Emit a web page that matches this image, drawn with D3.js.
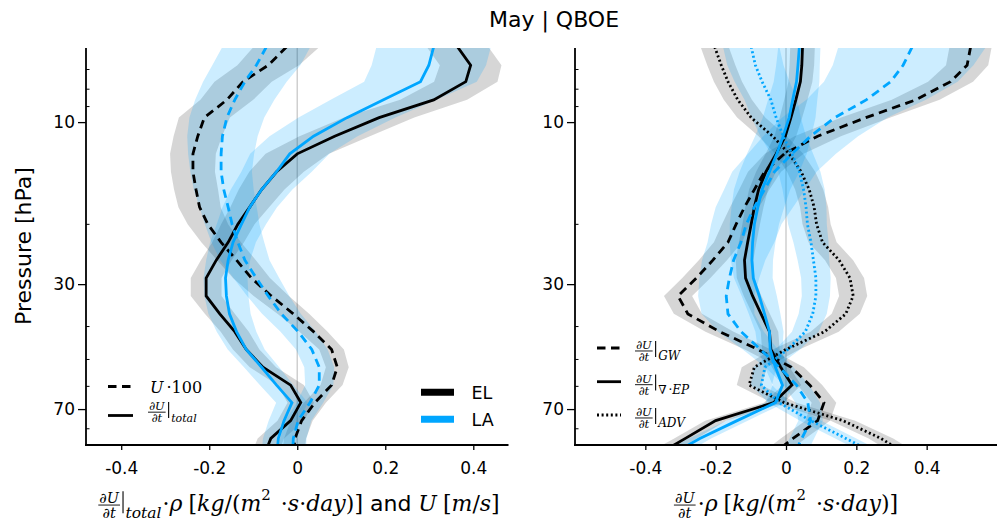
<!DOCTYPE html>
<html>
<head>
<meta charset="utf-8">
<script src="https://cdn.jsdelivr.net/npm/d3@7"></script>
<style>
  body { margin: 0; background: #fff; }
  svg { display: block; }
</style>
</head>
<body>
<svg id="chart" width="998" height="522"></svg>
<script>
// ---- data ----------------------------------------------------------
// pressure levels [hPa]
const pressure = [6.0, 6.8, 7.6, 8.6, 9.7, 11, 12.4, 14, 15.8, 17.8, 20, 22.6,
                  25.5, 28.8, 32.5, 36.7, 41.4, 46.7, 52.7, 59.5, 67, 75.7, 85.4, 92];

// left panel: U*100 and total tendency (EL / LA composites) with spread
const elU    = [-0.024,-0.066,-0.123,-0.16,-0.211,-0.226,-0.237,-0.237,-0.230,-0.222,-0.203,-0.173,-0.138,-0.104,-0.059,-0.009,0.037,0.078,0.091,0.078,0.040,0.010,-0.005,-0.008];
const elUsd  = [0.075,0.07,0.065,0.06,0.058,0.055,0.052,0.05,0.05,0.048,0.046,0.045,0.044,0.042,0.04,0.036,0.032,0.028,0.026,0.025,0.025,0.025,0.025,0.025];
const laU    = [-0.070,-0.093,-0.119,-0.142,-0.160,-0.170,-0.173,-0.173,-0.167,-0.157,-0.148,-0.135,-0.119,-0.093,-0.066,-0.036,0.002,0.033,0.050,0.050,0.029,0.002,-0.009,-0.010];
const laUsd  = [0.1,0.1,0.095,0.09,0.085,0.08,0.075,0.07,0.068,0.065,0.062,0.06,0.056,0.052,0.048,0.044,0.04,0.036,0.034,0.032,0.03,0.03,0.03,0.03];
const elTot  = [0.364,0.394,0.383,0.31,0.186,0.085,0.0,-0.047,-0.081,-0.108,-0.135,-0.157,-0.184,-0.207,-0.207,-0.176,-0.142,-0.116,-0.078,-0.015,0.008,-0.015,-0.06,-0.07];
const elTotSd= [0.07,0.07,0.072,0.076,0.08,0.08,0.072,0.062,0.052,0.044,0.038,0.036,0.035,0.035,0.035,0.034,0.032,0.03,0.03,0.03,0.03,0.03,0.03,0.03];
const laTot  = [0.31,0.299,0.28,0.196,0.113,0.037,-0.017,-0.047,-0.081,-0.108,-0.127,-0.146,-0.157,-0.163,-0.161,-0.154,-0.138,-0.116,-0.081,-0.047,-0.012,-0.03,-0.043,-0.045];
const laTotSd= [0.13,0.13,0.128,0.12,0.11,0.1,0.09,0.08,0.07,0.062,0.056,0.052,0.05,0.05,0.05,0.048,0.045,0.042,0.04,0.038,0.036,0.035,0.035,0.035];

// right panel: gravity-wave, EP-flux divergence and advection tendencies
const elGW   = [0.525,0.515,0.468,0.369,0.227,0.090,-0.005,-0.061,-0.090,-0.118,-0.142,-0.165,-0.208,-0.255,-0.307,-0.279,-0.189,-0.08,0.015,0.068,0.108,0.09,0.02,-0.02];
const elGWsd = [0.06,0.06,0.064,0.068,0.07,0.066,0.055,0.047,0.043,0.041,0.04,0.04,0.04,0.04,0.04,0.04,0.04,0.037,0.036,0.035,0.035,0.035,0.035,0.035];
const laGW   = [0.359,0.333,0.298,0.228,0.139,0.07,0.017,-0.033,-0.061,-0.090,-0.113,-0.128,-0.149,-0.161,-0.170,-0.165,-0.128,-0.073,-0.019,0.03,0.062,0.07,0.045,0.03];
const laGWsd = [0.21,0.2,0.19,0.17,0.15,0.135,0.125,0.12,0.115,0.11,0.1,0.095,0.09,0.085,0.08,0.075,0.065,0.05,0.04,0.036,0.035,0.035,0.035,0.035];
const elEP   = [0.047,0.045,0.041,0.028,0.014,-0.002,-0.028,-0.057,-0.078,-0.090,-0.099,-0.109,-0.118,-0.115,-0.095,-0.071,-0.047,-0.043,-0.015,0.017,-0.035,-0.2,-0.286,-0.34];
const elEPsd = [0.035,0.035,0.034,0.033,0.032,0.031,0.03,0.028,0.027,0.026,0.025,0.025,0.025,0.025,0.025,0.025,0.025,0.025,0.025,0.026,0.028,0.03,0.032,0.034];
const laEP   = [0.038,0.034,0.030,0.019,0.009,-0.008,-0.026,-0.047,-0.068,-0.080,-0.090,-0.095,-0.097,-0.093,-0.076,-0.061,-0.047,-0.045,-0.03,-0.01,-0.03,-0.139,-0.245,-0.3];
const laEPsd = [0.06,0.062,0.065,0.07,0.075,0.08,0.085,0.085,0.08,0.075,0.07,0.065,0.06,0.055,0.05,0.045,0.04,0.035,0.03,0.028,0.028,0.03,0.032,0.034];
const elADV  = [-0.203,-0.184,-0.165,-0.137,-0.099,-0.038,0.009,0.043,0.066,0.080,0.087,0.104,0.151,0.182,0.191,0.170,0.11,0.0,-0.09,-0.105,-0.005,0.162,0.27,0.32];
const elADVsd= [0.04,0.04,0.04,0.04,0.04,0.04,0.04,0.04,0.04,0.04,0.04,0.04,0.04,0.04,0.04,0.04,0.04,0.038,0.036,0.035,0.035,0.035,0.035,0.035];
const laADV  = [-0.099,-0.087,-0.068,-0.043,-0.028,-0.008,0.017,0.038,0.050,0.057,0.061,0.071,0.078,0.085,0.085,0.076,0.055,0.005,-0.06,-0.07,-0.02,0.07,0.17,0.23];
const laADVsd= [0.08,0.08,0.078,0.075,0.07,0.065,0.06,0.06,0.06,0.058,0.055,0.05,0.045,0.042,0.04,0.04,0.038,0.035,0.033,0.03,0.03,0.03,0.03,0.03];

// axis ticks
const xTicks = [-0.4, -0.2, 0, 0.2, 0.4];
const yMajor = [10, 30, 70];
const yMinor = [7, 8, 9, 20, 40, 50, 60, 80];

// ---- styles ----------------------------------------------------------
const SANS = "'DejaVu Sans', sans-serif";
const SERIF = "'DejaVu Serif', 'Liberation Serif', serif";
const COL = { EL: "#000000", LA: "#00a6ff" };
const BAND = { EL: "rgba(0,0,0,0.16)", LA: "rgba(0,166,255,0.2)" };
const DASH = { solid: null, dashed: "8.5,5.5", dotted: "2,2.6" };
const LW = 2.8;

const svg = d3.select("#chart");

const yTop = 48, yBot = 445;
const y = d3.scaleLog().domain([6.05, 89.3]).range([yTop, yBot]);

// small math-text layout helper: lays runs out left to right from the origin
function mathLabel(parent, runs, base) {
  const g = parent.append("g");
  let x = 0;
  const axis = -base * 0.27;
  for (const r of runs) {
    if (r.frac) {
      const fs = r.size;
      const num = g.append("text").attr("font-family", SERIF).attr("font-style", "italic")
        .attr("font-size", fs).attr("text-anchor", "middle").text(r.frac[0]);
      const den = g.append("text").attr("font-family", SERIF).attr("font-style", "italic")
        .attr("font-size", fs).attr("text-anchor", "middle").text(r.frac[1]);
      const w = Math.max(num.node().getComputedTextLength(), den.node().getComputedTextLength());
      num.attr("x", x + 1 + w / 2).attr("y", axis - 2);
      den.attr("x", x + 1 + w / 2).attr("y", axis + fs * 0.85 + 0.5);
      g.append("line").attr("x1", x).attr("x2", x + w + 2).attr("y1", axis).attr("y2", axis)
        .attr("stroke", "#000").attr("stroke-width", 0.9);
      x += w + 3;
    } else if (r.bar) {
      g.append("line").attr("x1", x + 2).attr("x2", x + 2)
        .attr("y1", -0.9 * base).attr("y2", 0.1 * base)
        .attr("stroke", "#000").attr("stroke-width", 1.1);
      x += 4.5;
    } else if (r.gap) {
      x += r.gap;
    } else {
      const t = g.append("text").attr("x", x).attr("y", r.dy || 0)
        .attr("font-family", r.fam || SERIF)
        .attr("font-style", r.it ? "italic" : "normal")
        .attr("font-size", r.size || base)
        .text(r.t);
      x += t.node().getComputedTextLength();
    }
  }
  return { g, width: x };
}

function drawPanel(cfg) {
  const x = d3.scaleLinear().domain(cfg.domain).range([cfg.x0, cfg.x1]);
  const g = svg.append("g");
  const clipId = "clip-" + cfg.name;
  svg.append("defs").append("clipPath").attr("id", clipId)
    .append("rect").attr("x", cfg.x0).attr("y", yTop).attr("width", cfg.x1 - cfg.x0).attr("height", yBot - yTop);

  // zero line
  g.append("line").attr("x1", x(0)).attr("x2", x(0)).attr("y1", yTop).attr("y2", yBot)
    .attr("stroke", "#cfcfcf").attr("stroke-width", 1.5);

  const plot = g.append("g").attr("clip-path", `url(#${clipId})`);
  const idx = d3.range(pressure.length);

  const area = s => d3.area()
    .y(i => y(pressure[i]))
    .x0(i => x(s.v[i] - s.sd[i]))
    .x1(i => x(s.v[i] + s.sd[i]));
  const line = s => d3.line().x(i => x(s.v[i])).y(i => y(pressure[i]));

  for (const exp of ["EL", "LA"]) {
    cfg.series.filter(s => s.exp === exp).forEach(s => {
      plot.append("path").attr("d", area(s)(idx)).attr("fill", BAND[exp]).attr("stroke", "none");
    });
  }
  for (const exp of ["EL", "LA"]) {
    cfg.series.filter(s => s.exp === exp).forEach(s => {
      plot.append("path").attr("d", line(s)(idx)).attr("fill", "none")
        .attr("stroke", COL[exp]).attr("stroke-width", LW)
        .attr("stroke-dasharray", DASH[s.style]);
    });
  }

  // axes
  const xAxis = d3.axisBottom(x).tickValues(xTicks)
    .tickFormat(d => d === 0 ? "0" : d.toFixed(1)).tickSize(5).tickPadding(12);
  const gx = g.append("g").attr("transform", `translate(0,${yBot})`).call(xAxis);
  const yAxis = d3.axisLeft(y).tickValues(yMajor).tickFormat(d3.format("d")).tickSize(8).tickPadding(3);
  const gy = g.append("g").attr("transform", `translate(${cfg.x0},0)`).call(yAxis);
  for (const ax of [gx, gy]) {
    ax.select(".domain").remove();
    ax.selectAll(".tick line").attr("stroke", "#000").attr("stroke-width", 1.3);
    ax.selectAll(".tick text").attr("font-family", SANS).attr("font-size", 17).attr("fill", "#000");
  }
  g.append("g").selectAll("line").data(yMinor).join("line")
    .attr("x1", cfg.x0).attr("x2", cfg.x0 + 3.5)
    .attr("y1", d => y(d)).attr("y2", d => y(d))
    .attr("stroke", "#000").attr("stroke-width", 1);
  // spines
  g.append("line").attr("x1", cfg.x0).attr("x2", cfg.x0).attr("y1", yTop).attr("y2", yBot + 0.9)
    .attr("stroke", "#000").attr("stroke-width", 1.8);
  g.append("line").attr("x1", cfg.x0 - 0.9).attr("x2", cfg.x1).attr("y1", yBot).attr("y2", yBot)
    .attr("stroke", "#000").attr("stroke-width", 1.8);
  return { x, g };
}

drawPanel({
  name: "left", domain: [-0.48, 0.48], x0: 86, x1: 508.5,
  series: [
    { v: elU, sd: elUsd, exp: "EL", style: "dashed" },
    { v: elTot, sd: elTotSd, exp: "EL", style: "solid" },
    { v: laU, sd: laUsd, exp: "LA", style: "dashed" },
    { v: laTot, sd: laTotSd, exp: "LA", style: "solid" }
  ]
});

drawPanel({
  name: "right", domain: [-0.6, 0.6], x0: 575, x1: 997,
  series: [
    { v: elGW, sd: elGWsd, exp: "EL", style: "dashed" },
    { v: elEP, sd: elEPsd, exp: "EL", style: "solid" },
    { v: elADV, sd: elADVsd, exp: "EL", style: "dotted" },
    { v: laGW, sd: laGWsd, exp: "LA", style: "dashed" },
    { v: laEP, sd: laEPsd, exp: "LA", style: "solid" },
    { v: laADV, sd: laADVsd, exp: "LA", style: "dotted" }
  ]
});

// ---- titles and axis labels ------------------------------------------
svg.append("text").attr("x", 554).attr("y", 27).attr("text-anchor", "middle")
  .attr("font-family", SANS).attr("font-size", 22).attr("fill", "#000").text("May | QBOE");

svg.append("text").attr("transform", "translate(31,246) rotate(-90)").attr("text-anchor", "middle")
  .attr("font-family", SANS).attr("font-size", 22).attr("fill", "#000").text("Pressure [hPa]");

const XB = 22; // x-label base size
const unitRuns = [
  { t: "·" }, { t: "ρ", it: true }, { gap: 6 },
  { t: "[" }, { t: "kg", it: true }, { t: "/(" }, { t: "m", it: true },
  { t: "2", size: XB * 0.68, dy: -XB * 0.5 }, { gap: 10 },
  { t: "·" }, { t: "s", it: true }, { t: "·" }, { t: "day", it: true }, { t: ")]" }
];
const fracXL = { frac: ["∂U", "∂t"], size: 14.5 };

const lx = mathLabel(svg, [
  fracXL, { bar: true }, { t: "total", it: true, size: 15.5, dy: 7 }, { gap: 1 },
  ...unitRuns,
  { t: "\u00a0and\u00a0", fam: SANS, size: 22 }, { t: "U", it: true }, { gap: 6 }, { t: "[" }, { t: "m", it: true },
  { t: "/" }, { t: "s", it: true }, { t: "]" }
], XB);
lx.g.attr("transform", `translate(${299 - lx.width / 2},511)`);

const rx = mathLabel(svg, [fracXL, { gap: 1 }, ...unitRuns], XB);
rx.g.attr("transform", `translate(${786 - rx.width / 2},511)`);

// ---- legends ---------------------------------------------------------
const LB = 16;
function handle(x1, x2, yy, color, style, w) {
  svg.append("line").attr("x1", x1).attr("x2", x2).attr("y1", yy).attr("y2", yy)
    .attr("stroke", color).attr("stroke-width", w).attr("stroke-dasharray", DASH[style]);
}

// left: line styles
handle(108, 133, 386.5, "#000", "dashed", LW);
mathLabel(svg, [{ t: "U", it: true }, { gap: 3 }, { t: "·" }, { t: "100" }], LB)
  .g.attr("transform", "translate(150,393)");
handle(108, 133, 415.5, "#000", "solid", LW);
mathLabel(svg, [{ frac: ["∂U", "∂t"], size: 11.5 }, { bar: true },
  { t: "total", it: true, size: 11, dy: 5 }], LB)
  .g.attr("transform", "translate(148,416.5)");

// left: experiments
handle(421, 454, 392.3, COL.EL, "solid", 7);
handle(421, 454, 419.3, COL.LA, "solid", 7);
svg.append("text").attr("x", 471.5).attr("y", 399.3).attr("font-family", SANS).attr("font-size", 17.5).text("EL");
svg.append("text").attr("x", 471.5).attr("y", 426.2).attr("font-family", SANS).attr("font-size", 17.5).text("LA");

// right: tendency terms
const termRows = [
  { style: "dashed", y: 348, sub: [{ t: "GW", it: true, size: 12, dy: 5 }] },
  { style: "solid", y: 381.7, sub: [{ t: "∇", size: 12, dy: 5 }, { gap: 2 }, { t: "·", size: 12, dy: 5 }, { t: "EP", it: true, size: 12, dy: 5 }] },
  { style: "dotted", y: 415, sub: [{ t: "ADV", it: true, size: 12, dy: 5 }] }
];
termRows.forEach(r => {
  handle(597, 621, r.y, "#000", r.style, LW);
  mathLabel(svg, [{ frac: ["∂U", "∂t"], size: 11.5 }, { bar: true }, ...r.sub], LB)
    .g.attr("transform", `translate(635,${r.y + 7.3})`);
});
</script>
</body>
</html>
